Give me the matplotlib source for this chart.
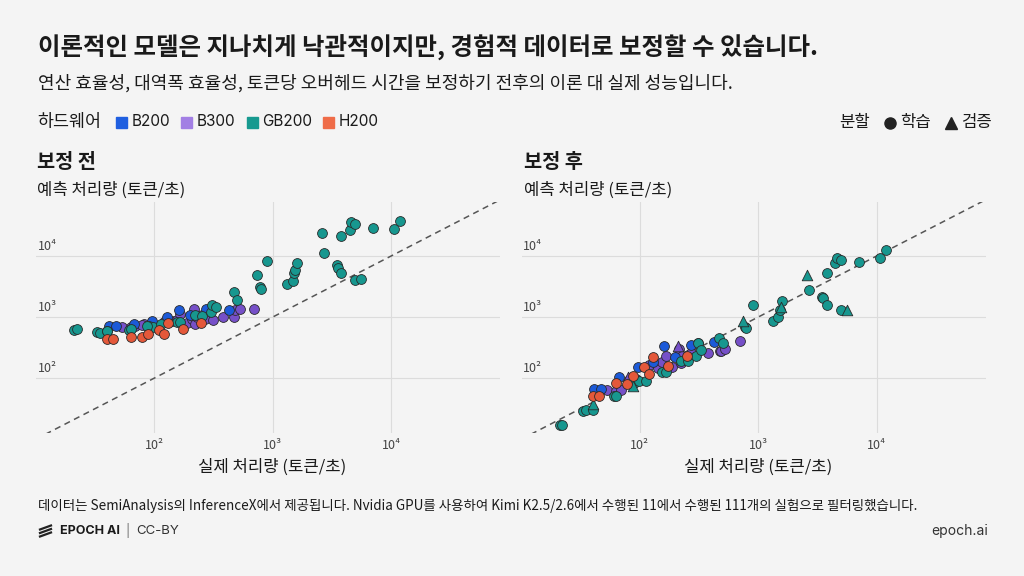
import matplotlib
matplotlib.use("Agg")
import matplotlib.pyplot as plt
import matplotlib.transforms as mtransforms
from matplotlib.lines import Line2D
import numpy as np

plt.rcParams['font.family'] = ['Noto Sans CJK KR', 'DejaVu Sans']

BG = "#f4f4f4"
TEXT = "#1a1a1a"
GRID = "#dcdcdc"

# hardware legend
hardware = ["B200", "B300", "GB200", "H200"]
hw_colors = ["#1c5ad8", "#7650c8", "#17978f", "#e4583a"]
swatch_colors = ["#1f5fe0", "#a27fe4", "#179a90", "#ef6c48"]

# actual throughput (tok/s), predicted before / after calibration, validation flag
b200_actual = [41, 47, 67, 96, 128, 160, 200, 273, 425]
b200_before = [712, 712, 767, 870, 1010, 1300, 1075, 1335, 1300]
b200_after = [65, 66, 103, 153, 180, 335, 220, 347, 385]
b200_val = [0, 0, 0, 0, 0, 0, 0, 0, 0]

b300_actual = [53, 63, 69, 81, 93, 120, 142, 155, 166, 188, 209, 215, 222,
               229, 254, 270, 312, 380, 473, 480, 525, 695, 79]
b300_before = [694, 694, 712, 767, 800, 837, 860, 890, 1120, 790, 930, 1335,
               767, 1010, 1100, 915, 890, 1010, 1010, 1300, 1335, 1335, 740]
b300_after = [64, 62, 63, 94, 96, 165, 146, 180, 226, 151, 338, 300, 175,
              226, 241, 260, 372, 256, 274, 280, 300, 398, 104]
b300_val = [0, 0, 0, 0, 0, 0, 0, 0, 0, 0, 1, 0, 0,
            0, 0, 0, 0, 0, 0, 0, 0, 0, 1]

gb200_actual = [21, 22, 33, 35, 40, 61, 63, 90, 98, 113, 155, 165, 222, 253,
                299, 307, 330, 467, 500, 40, 87,
                740, 780, 790, 895, 1320, 1480, 1520, 1550, 1600, 2600, 2690,
                3480, 3550, 3800, 3800, 4470, 4600, 5000, 5000, 5600, 7100,
                10600, 11900]
gb200_before = [615, 635, 560, 553, 598, 610, 635, 720, 690, 760, 835, 820,
                1075, 1050, 1230, 1580, 1480, 2590, 1900, 580, 700,
                4800, 3150, 2830, 8350, 3470, 3950, 5250, 5900, 7600, 23600,
                11000, 7100, 6460, 5250, 21000, 27000, 35500, 33000, 4050,
                4150, 29000, 28000, 37500]
gb200_after = [17, 17, 29, 30, 30, 51, 51, 83, 88, 88, 124, 124, 187, 187,
               226, 372, 290, 450, 380, 37, 73,
               850, 690, 650, 1550, 870, 1000, 1300, 1480, 1860, 4900, 2750,
               2140, 2040, 1580, 5250, 7760, 9300, 8700, 1290, 1290, 8100,
               9300, 12600]
gb200_val = [0] * 19 + [1, 1] + \
            [1, 0, 0, 0, 0, 0, 0, 1, 0, 1, 0,
             0, 0, 0, 0, 0, 0, 0, 0, 1, 0, 0, 0]

h200_actual = [40, 45, 63, 78, 88, 109, 120, 130, 173, 250]
h200_before = [436, 436, 464, 476, 525, 613, 525, 810, 630, 810]
h200_after = [51, 51, 82, 79, 108, 153, 115, 223, 159, 230]
h200_val = [0, 0, 0, 0, 0, 0, 0, 0, 0, 0]

series = {
    "B300": (b300_actual, b300_before, b300_after, b300_val),
    "B200": (b200_actual, b200_before, b200_after, b200_val),
    "GB200": (gb200_actual, gb200_before, gb200_after, gb200_val),
    "H200": (h200_actual, h200_before, h200_after, h200_val),
}

ticks = [1e2, 1e3, 1e4]
tick_labels = ["10²", "10³", "10⁴"]


def px(x, y):
    """pixel position -> figure fraction"""
    return x / 1024, 1 - y / 576


def setup_axes(ax):
    ax.set_xscale("log")
    ax.set_yscale("log")
    ax.set_xlim(10 ** 1.0, 10 ** 4.92)
    ax.set_ylim(10 ** 1.1, 10 ** 4.885)
    ax.set_facecolor(BG)
    for s in ax.spines.values():
        s.set_visible(False)
    ax.set_xticks(ticks)
    ax.set_xticklabels(tick_labels)
    ax.set_yticks(ticks)
    ax.set_yticklabels([])
    ax.minorticks_off()
    ax.tick_params(length=0, labelsize=9, labelcolor="#444444", pad=4)
    ax.grid(True, color=GRID, lw=0.8)
    ax.set_axisbelow(True)
    ax.plot([10 ** 1.08, 10 ** 4.92], [10 ** 1.08, 10 ** 4.92],
            ls=(0, (4, 3)), color="#555555", lw=1.1, zorder=1)
    trans = mtransforms.blended_transform_factory(ax.transAxes, ax.transData)
    for t, lab in zip(ticks, tick_labels):
        ax.text(0.004, t * 1.13, lab, transform=trans, fontsize=9,
                color="#444444", ha="left", va="bottom")


fig = plt.figure(figsize=(10.24, 5.76), dpi=100, facecolor=BG)

ax_l = fig.add_axes([36 / 1024, 1 - 433 / 576, 464 / 1024, 231 / 576])
ax_r = fig.add_axes([521.5 / 1024, 1 - 433 / 576, 464 / 1024, 231 / 576])

for ax in (ax_l, ax_r):
    setup_axes(ax)

for name in series:
    actual, before, after, val = series[name]
    col = hw_colors[hardware.index(name)]
    actual = np.array(actual)
    before = np.array(before)
    after = np.array(after)
    val = np.array(val, dtype=bool)
    ax_l.scatter(actual, before, s=50, color=col, edgecolor="#2a2a2a",
                 linewidth=0.6, zorder=3)
    ax_r.scatter(actual[~val], after[~val], s=50, color=col,
                 edgecolor="#2a2a2a", linewidth=0.6, zorder=3)
    ax_r.scatter(actual[val], after[val], s=58, marker="^", color=col,
                 edgecolor="#2a2a2a", linewidth=0.6, zorder=3)

# titles
fig.text(*px(38, 48), "이론적인 모델은 지나치게 낙관적이지만, 경험적 데이터로 보정할 수 있습니다.",
         fontsize=17.6, fontweight="bold", color=TEXT, va="center")
fig.text(*px(38, 83), "연산 효율성, 대역폭 효율성, 토큰당 오버헤드 시간을 보정하기 전후의 이론 대 실제 성능입니다.",
         fontsize=13, color=TEXT, va="center")

# hardware legend
fig.text(*px(37, 122), "하드웨어", fontsize=12.5, color=TEXT, va="center")
sw_x = [116, 181, 247, 323]
txt_x = [132, 197, 262, 339]
for name, c, x, tx in zip(hardware, swatch_colors, sw_x, txt_x):
    fig.patches.append(plt.Rectangle(px(x, 128), 11 / 1024, 11 / 576,
                                     transform=fig.transFigure,
                                     color=c, figure=fig))
    fig.text(*px(tx, 122), name, fontsize=11, color=TEXT, va="center",
             family="Inter")

# split legend
fig.text(*px(839, 122), "분할", fontsize=12, color=TEXT, va="center")
fig.add_artist(Line2D([890 / 1024], [1 - 123 / 576], marker="o",
                      markersize=8, color="#222222", transform=fig.transFigure))
fig.text(*px(900, 122), "학습", fontsize=12, color=TEXT, va="center")
fig.add_artist(Line2D([951 / 1024], [1 - 123 / 576], marker="^",
                      markersize=8, color="#222222", transform=fig.transFigure))
fig.text(*px(961, 122), "검증", fontsize=12, color=TEXT, va="center")

# panel titles and axis labels
for x0, title, xc in [(37, "보정 전", 272), (524, "보정 후", 758)]:
    fig.text(*px(x0, 162), title, fontsize=14.2, fontweight="bold",
             color=TEXT, va="center")
    fig.text(*px(x0, 190), "예측 처리량 (토큰/초)", fontsize=12,
             color=TEXT, va="center")
    fig.text(*px(xc, 467), "실제 처리량 (토큰/초)", fontsize=12,
             color=TEXT, va="center", ha="center")

# footer
fig.text(*px(38, 506), "데이터는 SemiAnalysis의 InferenceX에서 제공됩니다. Nvidia GPU를 사용하여 "
         "Kimi K2.5/2.6에서 수행된 11에서 수행된 111개의 실험으로 필터링했습니다.",
         fontsize=9.7, color=TEXT, va="center")
for dy in (-3.5, 0, 3.5):
    fig.add_artist(Line2D([40 / 1024, 51 / 1024],
                          [1 - (531 + dy + 2) / 576, 1 - (531 + dy - 2) / 576],
                          color="#222222", lw=1.6, transform=fig.transFigure))
fig.text(*px(60, 531), "EPOCH AI", fontsize=9, fontweight="bold",
         color=TEXT, va="center", family="Inter")
fig.text(*px(125, 531), "|", fontsize=9, color="#777777", va="center",
         family="Inter")
fig.text(*px(136, 531), "CC-BY", fontsize=9.5, color="#333333", va="center",
         family="Inter")
fig.text(*px(988, 531), "epoch.ai", fontsize=10, color="#333333",
         va="center", ha="right", family="Inter")

fig.savefig("out.png", dpi=100, facecolor=BG)
